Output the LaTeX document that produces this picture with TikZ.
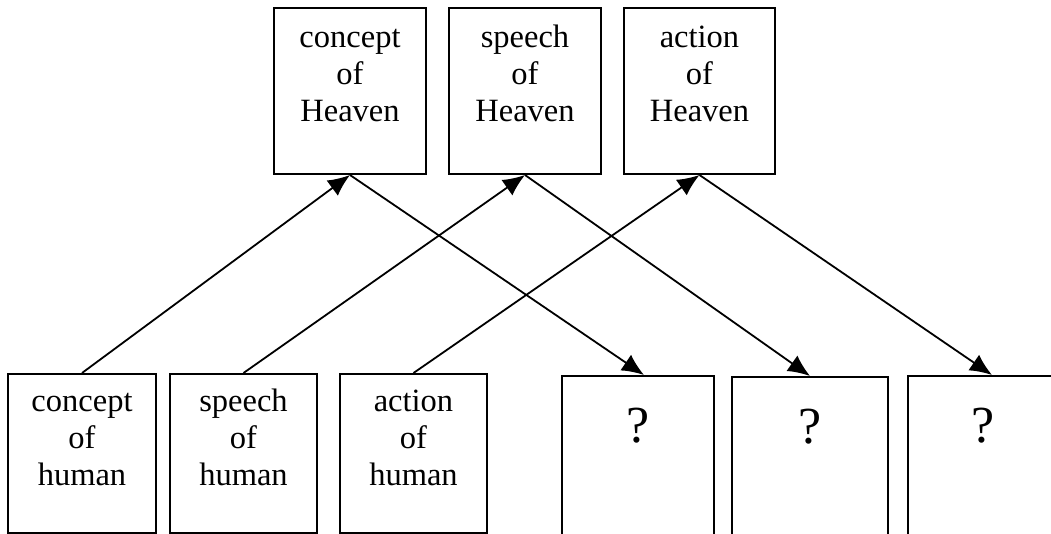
\documentclass[tikz,border=0pt]{standalone}
\usepackage{fontspec}
\setmainfont{Liberation Serif}
\usetikzlibrary{arrows.meta}

\begin{document}
\begin{tikzpicture}[x=1pt,y=-1pt,
	box/.style={draw,line width=2pt,minimum width=152pt,minimum height=166pt,inner sep=0pt},
	words/.style={align=center,inner sep=0pt,anchor=north,font=\fontsize{32.5}{36.7}\selectfont},
	qmark/.style={inner sep=0pt,anchor=north,font=\fontsize{52}{56}\selectfont},
	link/.style={line width=1.8pt,-{Latex[length=22pt,width=19pt]}}]

		\useasboundingbox (0,0) rectangle (1051,534);

		% Heaven, top row
		\node[box] (h1) at (350,91) {};
		\node[box] (h2) at (525,91) {};
		\node[box,minimum width=151pt] (h3) at (699.5,91) {};
		\node[words] (th1) at ([yshift=-15pt]h1.north) {\strut concept\\of\\Heaven};
		\node[words] (th2) at ([yshift=-15pt]h2.north) {\strut speech\\of\\Heaven};
		\node[words] (th3) at ([yshift=-15pt]h3.north) {\strut action\\of\\Heaven};

		% human, bottom row
		\node[box,minimum width=148pt,minimum height=159pt] (m1) at ( 82.0,453.5) {};
		\node[box,minimum width=147pt,minimum height=159pt] (m2) at (243.5,453.5) {};
		\node[box,minimum width=147pt,minimum height=159pt] (m3) at (413.5,453.5) {};
		\node[words] (tm1) at ([yshift=-13pt]m1.north) {\strut concept\\of\\human};
		\node[words] (tm2) at ([yshift=-13pt]m2.north) {\strut speech\\of\\human};
		\node[words] (tm3) at ([yshift=-13pt]m3.north) {\strut action\\of\\human};

		% unknown, bottom right
		\node[box,minimum height=170pt] (q1) at (638,461) {};
		\node[box,minimum width=156pt,minimum height=170pt] (q2) at (810,462) {};
		\node[box,minimum width=150pt,minimum height=170pt] (q3) at (983,461) {};
		\node[qmark] (tq1) at ([yshift=-33pt]q1.north) {?};
		\node[qmark] (tq2) at ([yshift=-33pt]q2.north) {?};
		\node[qmark] (tq3) at ([yshift=-33pt]q3.north) {?};

		\draw[link] (m1.north) -- (h1.south);
		\draw[link] (m2.north) -- (h2.south);
		\draw[link] (m3.north) -- (h3.south);

		\draw[link] (h1.south) -- ([xshift=6pt]q1.north);
		\draw[link] (h2.south) -- (q2.north);
		\draw[link] (h3.south) -- ([xshift=9pt]q3.north);

	\end{tikzpicture}
\end{document}
